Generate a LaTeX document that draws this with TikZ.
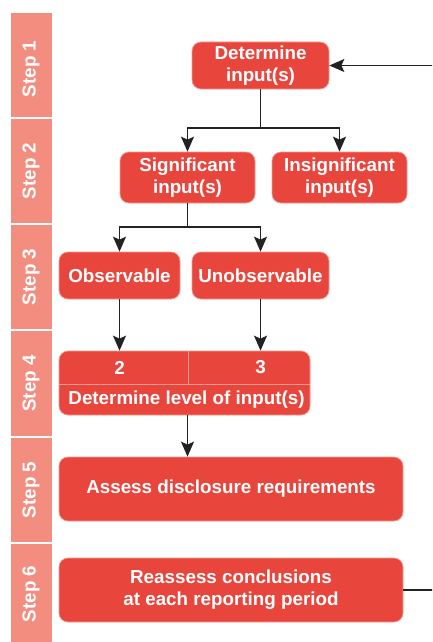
\documentclass[tikz,border=0pt]{standalone}
\usepackage{fontspec}
\setmainfont{Liberation Sans}
\usetikzlibrary{arrows.meta}
\definecolor{boxred}{HTML}{E8453C}
\definecolor{boxedge}{HTML}{F29A90}
\definecolor{stepfill}{HTML}{F28D80}
\definecolor{linegray}{HTML}{222222}
\tikzset{
  box/.style={fill=boxred, draw=boxedge, line width=0.7pt, rounded corners=9pt,
    inner sep=0pt, align=center, text=white,
    font=\fontsize{18.8}{22}\selectfont\bfseries},
  lbl/.style={inner sep=0pt, text=white, font=\fontsize{18.8}{22}\selectfont\bfseries},
  stepcell/.style={fill=stepfill, draw=white, line width=1.2pt, inner sep=0pt},
  steplbl/.style={rotate=90, inner sep=0pt, text=white, font=\fontsize{18.8}{22}\selectfont\bfseries},
  conn/.style={draw=linegray, line width=1.5pt},
  arr/.style={conn, -{Stealth[length=15pt,width=13pt,inset=3pt]}},
}
\begin{document}
\begin{tikzpicture}[x=1pt,y=-1pt]
\useasboundingbox (0,0) rectangle (432,642);
\clip (0,0) rectangle (432,642);
\fill[white] (0,0) rectangle (432,642);
% step column
\node[stepcell, minimum width=43pt, minimum height=106pt] (c1) at (31.5,65) {};
\node[stepcell, minimum width=43pt, minimum height=106pt] (c2) at (31.5,171) {};
\node[stepcell, minimum width=43pt, minimum height=106pt] (c3) at (31.5,277) {};
\node[stepcell, minimum width=43pt, minimum height=107pt] (c4) at (31.5,383.5) {};
\node[stepcell, minimum width=43pt, minimum height=106pt] (c5) at (31.5,490) {};
\node[stepcell, minimum width=43pt, minimum height=106pt] (c6) at (31.5,596) {};
\node[steplbl] (s1) at (31,69) {Step 1};
\node[steplbl] (s2) at (31,171) {Step 2};
\node[steplbl] (s3) at (31,277) {Step 3};
\node[steplbl] (s4) at (31,383.5) {Step 4};
\node[steplbl] (s5) at (31,490) {Step 5};
\node[steplbl] (s6) at (31,594) {Step 6};
% boxes
\node[box, minimum width=137pt, minimum height=47pt] (det) at (260.5,65.5) {Determine\\input(s)};
\node[box, minimum width=135pt, minimum height=51pt] (sig) at (187.5,177.5) {Significant\\input(s)};
\node[box, minimum width=135pt, minimum height=51pt] (ins) at (339.5,177.5) {Insignificant\\input(s)};
\node[box, minimum width=121pt, minimum height=47pt] (obs) at (119.5,275.5) {Observable};
\node[box, minimum width=137pt, minimum height=47pt] (uno) at (260.5,275.5) {Unobservable};
\node[box, minimum width=251pt, minimum height=64pt] (lev) at (184.5,383) {};
\coordinate (hl) at (59.4,384);
\coordinate (hr) at (309.6,384);
\coordinate (vt) at (188,351.4);
\coordinate (vb) at (188,384);
\draw[draw=boxedge, line width=0.9pt] (hl) -- (hr);
\draw[draw=boxedge, line width=0.9pt] (vt) -- (vb);
\node[lbl] (n2) at (119.5,367.5) {2};
\node[lbl] (n3) at (260.5,367.5) {3};
\node[lbl] (lvtxt) at (186.5,400) {Determine level of input(s)};
\node[box, minimum width=344pt, minimum height=64pt] (ass) at (231,489) {Assess disclosure requirements};
\node[box, minimum width=344pt, minimum height=64pt] (rea) at (231,590) {Reassess conclusions\\at each reporting period};
% connectors
\coordinate (j1) at (260.5,128);
\coordinate (j2) at (187.5,227);
\draw[conn] (det.south) -- (j1);
\draw[arr] (j1) -| (sig.north);
\draw[arr] (j1) -| (ins.north);
\draw[conn] (sig.south) -- (j2);
\draw[arr] (j2) -| (obs.north);
\draw[arr] (j2) -| (uno.north);
\draw[arr] (obs.south) -- (obs.south |- lev.north);
\draw[arr] (uno.south) -- (uno.south |- lev.north);
\draw[arr] (sig.south |- lev.south) -- (sig.south |- ass.north);
\coordinate (loop) at (445,590);
\draw[conn] (rea.east) -- (loop);
\draw[arr] (loop) |- (det.east);
\end{tikzpicture}
\end{document}
